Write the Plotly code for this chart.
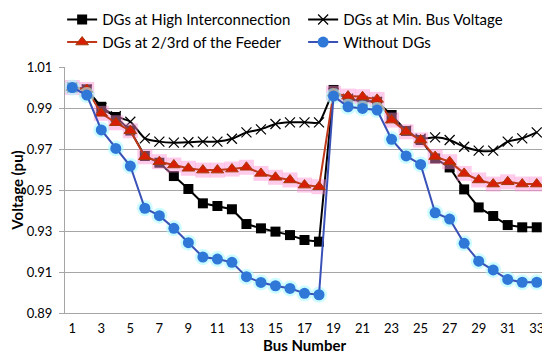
import plotly.graph_objects as go

bus = list(range(1, 34))

high_interconnection = [1.000, 0.9991, 0.9906, 0.9856, 0.9790, 0.9666, 0.9633, 0.9568, 0.9505, 0.9435,
                        0.9422, 0.9406, 0.9334, 0.9313, 0.9297, 0.9280, 0.9256, 0.9248, 0.9988, 0.9940,
                        0.9935, 0.9930, 0.9866, 0.9788, 0.9744, 0.9654, 0.9610, 0.9503, 0.9415, 0.9373,
                        0.9329, 0.9318, 0.9318]

min_bus_voltage = [1.000, 0.9990, 0.9900, 0.9860, 0.9833, 0.9752, 0.9736, 0.9731, 0.9733, 0.9736,
                   0.9736, 0.9750, 0.9781, 0.9796, 0.9822, 0.9830, 0.9830, 0.9830, 0.9972, 0.9945,
                   0.9935, 0.9930, 0.9850, 0.9790, 0.9750, 0.9757, 0.9744, 0.9711, 0.9692, 0.9692,
                   0.9736, 0.9752, 0.9781]

two_third_feeder = [1.000, 0.9990, 0.9874, 0.9828, 0.9789, 0.9662, 0.9638, 0.9622, 0.9606, 0.9597,
                    0.9597, 0.9602, 0.9611, 0.9581, 0.9562, 0.9549, 0.9524, 0.9516, 0.9972, 0.9958,
                    0.9955, 0.9942, 0.9841, 0.9784, 0.9744, 0.9663, 0.9638, 0.9581, 0.9549, 0.9529,
                    0.9540, 0.9529, 0.9529]

without_dgs = [1.000, 0.9963, 0.9793, 0.9703, 0.9617, 0.9411, 0.9375, 0.9313, 0.9243, 0.9173,
               0.9163, 0.9147, 0.9077, 0.9049, 0.9033, 0.9020, 0.8996, 0.8989, 0.9958, 0.9906,
               0.9898, 0.9890, 0.9747, 0.9666, 0.9625, 0.9389, 0.9358, 0.9240, 0.9153, 0.9110,
               0.9064, 0.9050, 0.9050]

x_ticks = list(range(1, 34, 2))
y_ticks = [0.89, 0.91, 0.93, 0.95, 0.97, 0.99, 1.01]

FONT = "Lato"

fig = go.Figure()

fig.add_trace(go.Scatter(
    x=bus, y=high_interconnection, mode="lines+markers",
    name="DGs at High Interconnection",
    line=dict(color="#000000", width=2),
    marker=dict(symbol="square", size=10, color="#000000"),
))

fig.add_trace(go.Scatter(
    x=bus, y=min_bus_voltage, mode="lines+markers",
    name="DGs at Min. Bus Voltage",
    line=dict(color="#000000", width=2, shape="spline", smoothing=0.6),
    marker=dict(symbol="x-thin", size=10, color="#000000",
                line=dict(color="#000000", width=1.2)),
))

fig.add_trace(go.Scatter(
    x=bus, y=two_third_feeder, mode="markers", showlegend=False, hoverinfo="skip",
    marker=dict(symbol="square", size=15, color="rgba(255,140,210,0.45)"),
))

fig.add_trace(go.Scatter(
    x=bus, y=two_third_feeder, mode="lines+markers",
    name="DGs at 2/3rd of the Feeder",
    line=dict(color="#C0391B", width=2),
    marker=dict(symbol="triangle-up", size=11, color="#D81E05",
                line=dict(color="#A33B0B", width=1)),
))

fig.add_trace(go.Scatter(
    x=bus, y=without_dgs, mode="markers", showlegend=False, hoverinfo="skip",
    marker=dict(symbol="circle", size=16, color="rgba(170,250,255,0.6)"),
))

fig.add_trace(go.Scatter(
    x=bus, y=without_dgs, mode="lines+markers",
    name="Without DGs",
    line=dict(color="#3A52B8", width=2),
    marker=dict(symbol="circle", size=11, color="#2F78D8"),
))

# The page body has an 8px default margin, so the figure is 8px smaller
fig.update_layout(
    width=542, height=354,
    margin=dict(l=57, r=6, t=59, b=49, autoexpand=False),
    paper_bgcolor="white", plot_bgcolor="white",
    font=dict(family=FONT, color="#000000", size=13),
    legend=dict(
        orientation="h", x=-0.006, xanchor="left", y=1.259, yanchor="top",
        entrywidth=196, entrywidthmode="pixels",
        font=dict(family=FONT, size=15, color="#000000"),
        bgcolor="rgba(0,0,0,0)", tracegroupgap=0, itemwidth=30,
    ),
    showlegend=True,
)

fig.update_xaxes(
    range=[0.5, 33.5], tickmode="array", tickvals=x_ticks,
    ticktext=[str(v) for v in x_ticks], automargin=False,
    showgrid=False, showline=True, linecolor="#A6A6A6", linewidth=1,
    ticks="", tickfont=dict(family=FONT, size=13), ticklabelstandoff=3,
    title=dict(text="<b>Bus Number</b>", font=dict(family=FONT, size=15), standoff=3),
    zeroline=False,
)

fig.update_yaxes(
    range=[0.89, 1.01], tickmode="array", tickvals=y_ticks,
    ticktext=["%.2f" % v for v in y_ticks], automargin=False,
    showgrid=True, gridcolor="#A6A6A6", gridwidth=1,
    showline=True, linecolor="#A6A6A6", linewidth=1,
    ticks="outside", ticklen=5, tickcolor="#A6A6A6",
    tickfont=dict(family=FONT, size=13), ticklabelstandoff=4,
    title=dict(text="<b>Voltage (pu)</b>", font=dict(family=FONT, size=15), standoff=6),
    zeroline=False,
)

fig.write_html("out.html")
